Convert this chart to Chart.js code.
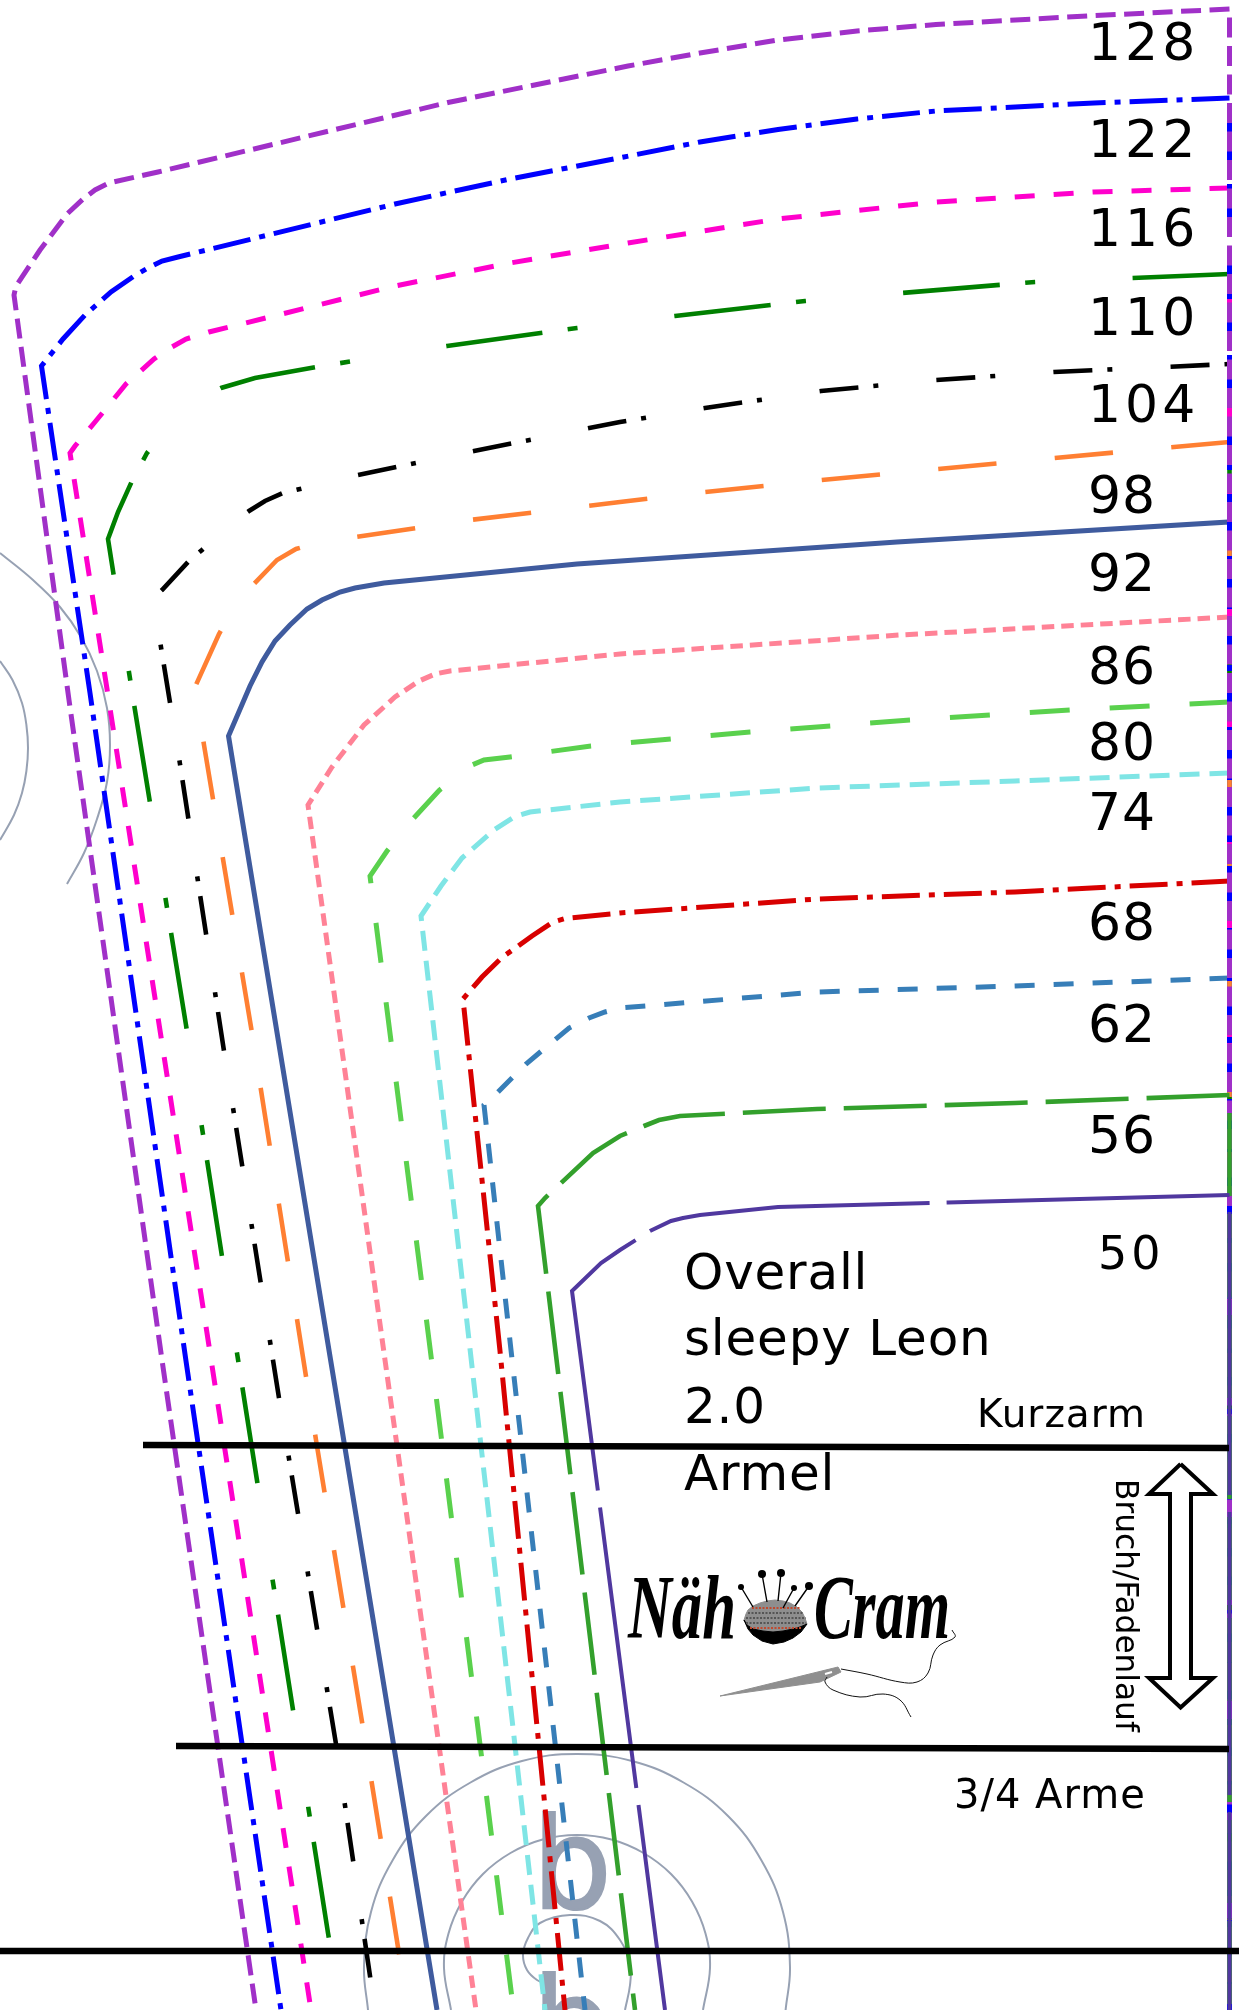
<!DOCTYPE html>
<html lang="de">
<head>
<meta charset="UTF-8">
<title>Overall sleepy Leon 2.0 Ärmel</title>
<script src="https://cdnjs.cloudflare.com/ajax/libs/Chart.js/4.4.1/chart.umd.min.js"></script>
<style>
  html, body { margin: 0; padding: 0; background: #fff; }
  #chart { display: block; }
</style>
</head>
<body>
<canvas id="chart" width="1239" height="2010"></canvas>
<script>
/* ---------- size outlines: fold bottom, fold top, then left and down ---------- */
const x128 = [1229.5, 1229.5, 1094, 936, 857, 778, 700, 628, 448, 158, 109, 95, 83, 67, 40, 16, 14, 69, 162, 256];
const y128 = [2010, 9, 15.6, 24.5, 31, 40, 53, 66, 102.5, 172, 183, 190, 199, 214, 250, 286, 295, 700, 1360, 2010];
const x122 = [1229.5, 1229.5, 1094, 936, 857, 778, 700, 624, 510, 395, 178, 162, 148, 134, 111, 85, 63, 41.5, 90, 186, 281];
const y122 = [2010, 98, 103, 111, 119, 129.5, 142, 157, 179, 204, 257, 261, 268, 276, 292, 315, 339, 366, 693, 1361, 2010];
const x116 = [1229.5, 1229.5, 1094, 936, 778, 628, 510, 395, 209, 186, 170, 154, 126, 95, 75, 70, 107, 209, 311];
const y116 = [2010, 188, 192, 202, 219, 243, 263, 286, 332, 339, 348, 359, 384, 422, 446, 453, 689, 1346, 2010];
const x110 = [1229.5, 1229.5, 1035, 805, 675, 577, 447, 316, 255, 221, 196, 165, 147, 132, 118, 108, 134, 186, 237, 328, 341];
const y110 = [2010, 274, 282, 301, 316, 328, 346, 367, 378, 388, 400, 430, 453, 481, 512, 539, 704, 1025, 1353, 1933, 2010];
const x104 = [1229.5, 1054, 936, 821, 705, 620, 474, 358, 300, 283, 265, 249, 225, 202, 188, 162, 153, 180, 224, 279, 336, 375];
const y104 = [364, 372, 380, 391, 408, 422, 451, 475, 489, 493, 501, 511, 528, 550, 562, 590, 598, 764, 1051, 1398, 1744, 2010];
const x98 = [1229.5, 1229.5, 1054, 938, 821, 705, 620, 470, 356, 310, 296, 277, 253, 234, 219, 195, 204, 252, 316, 363, 408];
const y98 = [2010, 442, 458, 469, 480, 492, 502, 520, 537, 545, 549, 560, 585, 608, 634, 687, 745, 1033, 1440, 1728, 2010];
const x92 = [1229.5, 1229.5, 897, 577, 384, 355, 340, 322, 307, 290, 275, 262, 250, 228.5, 330.6, 437];
const y92 = [2010, 522, 542, 564, 583, 588, 592, 600, 609, 625, 641, 662, 686, 736, 1360, 2010];
const x86 = [1229.5, 1229.5, 900, 620, 450, 435, 419, 395, 364, 332, 308, 385, 476];
const y86 = [2010, 617, 635, 654, 671, 674, 681, 697, 725, 767, 805, 1360, 2010];
const x80 = [1229.5, 1229.5, 1070, 910, 750, 591, 510, 484, 472, 439, 413, 387, 370, 429, 513.5];
const y80 = [2010, 702, 710, 720, 732, 746, 757, 760, 765, 790.5, 819, 851, 876, 1340, 2010];
const x74 = [1229.5, 1229.5, 1015, 817, 620, 530, 514, 494, 462, 441, 421, 469, 545];
const y74 = [2010, 773, 781, 788, 802, 812, 817, 830, 858, 886, 916, 1340, 2010];
const x68 = [1229.5, 1229.5, 1015, 817, 620, 565, 553, 532, 502, 482, 463, 500, 565];
const y68 = [2010, 881, 892, 899, 913, 918.5, 922, 936, 957.5, 977, 999, 1351, 2010];
const x62 = [1229.5, 1229.5, 1015, 817, 620, 605, 589, 569, 526, 498, 484, 511, 585];
const y62 = [2010, 978, 986, 992, 1008, 1012, 1018, 1028, 1064, 1092, 1105, 1350, 2010];
const x56 = [1229.5, 1229.5, 1015, 817, 680, 659, 644, 620, 593, 559, 545, 538, 558.5, 635];
const y56 = [2010, 1095, 1103, 1109, 1116, 1120, 1126, 1136, 1153, 1185, 1198, 1206, 1376, 2010];
const x50 = [1229.5, 1229.5, 948, 778, 700, 683, 671, 650, 620, 601, 572, 581, 665];
const y50 = [2010, 1195, 1202.5, 1207, 1215, 1218, 1221, 1231, 1250, 1263, 1291, 1360, 2010];

/* ---------- sleeve length lines ---------- */
const kurzX = [143, 1229];
const kurzY = [1445, 1448];
const dreiviertelX = [176, 1229];
const dreiviertelY = [1746, 1749];
const cuffX = [0, 1239];
const cuffY = [1951, 1951];

/* ---------- grain arrow ---------- */
const arrowX = [1180.6, 1213, 1191, 1191, 1213, 1180.6, 1149, 1170, 1170, 1149, 1180.6];
const arrowY = [1464, 1494, 1494, 1678, 1678, 1707.5, 1678, 1678, 1494, 1494, 1464];

/* ---------- placement circles ---------- */
const bigX = [368, 364, 371, 392.5, 426, 470.5, 522, 577, 632, 683.5, 728, 761.5, 783, 790, 785.6];
const bigY = [2010, 1967, 1912, 1860.5, 1816, 1782.5, 1761, 1754, 1761, 1782.5, 1816, 1860.5, 1912, 1967, 2010];
const midX = [451, 444, 448.5, 462, 483, 510.5, 542.6, 577, 611.4, 643.5, 671, 692, 705.5, 710, 703];
const midY = [2010, 1968, 1933.6, 1901.5, 1874, 1853, 1839.5, 1835, 1839.5, 1853, 1874, 1901.5, 1933.6, 1968, 2010];
const smallX = [547, 537, 527, 523, 528, 540, 570, 600, 620, 630, 630, 625];
const smallY = [1984, 1980, 1970, 1955, 1938, 1923, 1915, 1921, 1940, 1965, 1985, 2010];
const leftBigX = [0, 33, 60, 81, 97, 107, 110, 107, 97, 84, 67];
const leftBigY = [553, 580, 607, 637, 671, 708, 745, 782, 819, 853, 884];
const leftMidX = [0, 12.5, 22, 26.4, 28, 26.4, 22, 14, 0];
const leftMidY = [661, 680, 703, 725, 748, 771, 793, 815, 840];

/* ---------- logo marks ---------- */
const domeX = [744, 746, 748, 753, 760, 767, 775, 783, 790, 797, 802, 805, 807, 800, 793, 783, 773, 763, 753, 747, 744];
const domeY = [1620, 1614, 1610, 1606, 1603, 1601, 1600, 1601, 1603, 1607, 1612, 1618, 1624, 1627, 1629, 1631, 1632, 1631, 1629, 1625, 1620];
const bowlX = [744, 748, 753, 762, 773, 784, 793, 801, 807, 800, 793, 783, 773, 763, 753, 747, 744];
const bowlY = [1620, 1629, 1635, 1641, 1644, 1642, 1638, 1632, 1624, 1627, 1629, 1631, 1632, 1631, 1629, 1625, 1620];
const pinX = [762, 767, null, 781, 778, null, 741, 753, null, 794, 783, null, 809, 795];
const pinY = [1574, 1602, null, 1573, 1601, null, 1587, 1607, null, 1588, 1608, null, 1586, 1606];
const pinHeadX = [762, 781, 809];
const pinHeadY = [1574, 1573, 1586];
const smallHeadX = [741, 794];
const smallHeadY = [1587, 1588];
const stitchRedX = [752, 800, null, 750, 802];
const stitchRedY = [1608, 1608, null, 1628, 1628];
const stitchGreyX = [748, 804, null, 746, 806, null, 746, 806];
const stitchGreyY = [1613, 1613, null, 1618, 1618, null, 1623, 1623];
const needleX = [720, 838, 841, 820, 720];
const needleY = [1696, 1667, 1672, 1682, 1696];
const eyeX = [825, 832];
const eyeY = [1674, 1672];
const threadX = [841, 867, 900, 917, 928, 933, 940, 955, 952];
const threadY = [1669, 1674, 1682, 1682, 1673, 1655, 1645, 1637, 1630];
const tailX = [827, 825, 833, 860, 883, 900, 911];
const tailY = [1677, 1682, 1690, 1697, 1694, 1700, 1717];

/* ---------- labels ---------- */
const sizeLabels = ['128', '122', '116', '110', '104', '98', '92', '86', '80', '74', '68', '62', '56'];
const sizeLabelY = [60, 157, 245.5, 335, 422, 512.5, 590.6, 684, 760, 830, 940, 1042, 1153];
const titleLines = ['Overall', 'sleepy Leon', '2.0', 'Ärmel'];
const titleLineY = [1289, 1355, 1423, 1489.5];

const pts = (xs, ys) => xs.map((x, i) => ({ x: x, y: ys[i] }));

// outlines start at the fold bottom, the dash has to start at the top corner
const outline = (label, xs, ys, color, width, dash) => {
  const fold = ys[0] > ys[1] ? ys[0] - ys[1] : 0;
  return {
    label: label,
    data: pts(xs, ys),
    showLine: true,
    pointRadius: 0,
    borderColor: color,
    borderWidth: width,
    borderDash: dash,
    borderDashOffset: -fold,
    borderCapStyle: 'butt',
    borderJoinStyle: 'miter'
  };
};

const mark = (xs, ys, color, width, extra) => Object.assign({
  data: pts(xs, ys),
  showLine: true,
  pointRadius: 0,
  borderColor: color,
  borderWidth: width,
  spanGaps: false
}, extra || {});

const arc = (xs, ys) => mark(xs, ys, '#97a1b3', 2, { tension: 0.4 });
const shape = (xs, ys, color) => mark(xs, ys, color, 1, { fill: 'shape', backgroundColor: color });
const heads = (xs, ys, r) => mark(xs, ys, '#000', 0, { showLine: false, pointRadius: r, pointBackgroundColor: '#000', pointBorderWidth: 0 });

const datasets = [
  mark(kurzX, kurzY, '#000', 6.5),
  mark(dreiviertelX, dreiviertelY, '#000', 6.5),
  mark(cuffX, cuffY, '#000', 6.5),
  mark(arrowX, arrowY, '#000', 4),
  mark(eyeX, eyeY, '#fff', 2),
  mark(threadX, threadY, '#111', 1, { tension: 0.4 }),
  mark(tailX, tailY, '#111', 1, { tension: 0.4 }),
  shape(needleX, needleY, '#8f8f8f'),
  heads(pinHeadX, pinHeadY, 4),
  heads(smallHeadX, smallHeadY, 3),
  mark(pinX, pinY, '#000', 1.4),
  mark(stitchRedX, stitchRedY, '#c0492e', 2, { borderDash: [2, 1.5] }),
  mark(stitchGreyX, stitchGreyY, '#555', 2, { borderDash: [2, 1.5] }),
  shape(bowlX, bowlY, '#000'),
  shape(domeX, domeY, '#8e8e8e'),
  outline('50', x50, y50, '#50389f', 4, [283, 17]),
  outline('56', x56, y56, '#33a02c', 4.6, [83, 18]),
  outline('128', x128, y128, '#a030c8', 5, [20, 8.5]),
  outline('122', x122, y122, '#0000ff', 5, [38, 9, 6, 9]),
  outline('116', x116, y116, '#ff00cc', 5, [20, 19]),
  outline('110', x110, y110, '#008000', 4.6, [97, 97.5, 10, 25.5]),
  outline('104', x104, y104, '#000000', 4.6, [5, 15, 39, 58.3]),
  outline('98', x98, y98, '#ff7f32', 4.6, [58.5, 58.5]),
  outline('92', x92, y92, '#3f5b9e', 5, []),
  outline('86', x86, y86, '#ff8296', 5, [12.5, 7]),
  outline('80', x80, y80, '#5ad14d', 5, [40, 40]),
  outline('74', x74, y74, '#7fe5e5', 5, [20, 10]),
  outline('68', x68, y68, '#d80000', 5, [38, 9, 6, 9]),
  outline('62', x62, y62, '#377eb8', 5, [20, 19]),
  arc(bigX, bigY),
  arc(midX, midY),
  arc(smallX, smallY),
  arc(leftBigX, leftBigY),
  arc(leftMidX, leftMidY)
];

const sansFont = '"DejaVu Sans", sans-serif';

const sheetText = {
  id: 'sheetText',
  // the two placement letters lie under the outlines
  beforeDatasetsDraw(chart) {
    const c = chart.ctx, sx = chart.scales.x, sy = chart.scales.y;
    c.save();
    c.fillStyle = '#97a1b3';
    c.strokeStyle = '#97a1b3';
    c.lineWidth = 2;
    c.textBaseline = 'alphabetic';
    c.font = '126px ' + sansFont;
    [1908, 2068].forEach(y => {
      c.fillText('b', sx.getPixelForValue(532), sy.getPixelForValue(y));
      c.strokeText('b', sx.getPixelForValue(532), sy.getPixelForValue(y));
    });
    c.restore();
  },
  afterDatasetsDraw(chart) {
    const c = chart.ctx, sx = chart.scales.x, sy = chart.scales.y;
    const put = (text, x, y, font, spacing, maxWidth) => {
      c.font = font;
      c.letterSpacing = (spacing || 0) + 'px';
      if (maxWidth) c.fillText(text, sx.getPixelForValue(x), sy.getPixelForValue(y), maxWidth);
      else c.fillText(text, sx.getPixelForValue(x), sy.getPixelForValue(y));
    };
    c.save();
    c.fillStyle = '#000';
    c.textBaseline = 'alphabetic';
    // the pattern font sets the ones much wider
    sizeLabels.forEach((t, i) => put(t, 1088, sizeLabelY[i], '52px ' + sansFont, t.length === 3 ? 4 : 1));
    put('50', 1098, 1269, '46px ' + sansFont, 4);
    titleLines.forEach((t, i) => put(t, 684, titleLineY[i], '50px ' + sansFont, 0.8));
    put('Kurzarm', 977, 1427, '39px ' + sansFont, 1);
    put('3/4 Arme', 954, 1808, '40px ' + sansFont, 1);
    put('Näh', 628, 1638, 'bold italic 90px "Liberation Serif", serif', 0, 108);
    put('Cram', 814, 1638, 'bold italic 90px "Liberation Serif", serif', 0, 136);
    // grain direction label reads downwards
    c.translate(sx.getPixelForValue(1116), sy.getPixelForValue(1479));
    c.rotate(Math.PI / 2);
    put('Bruch/Fadenlauf', 0, 0, '31.2px ' + sansFont, 0);
    c.restore();
  }
};

new Chart(document.getElementById('chart'), {
  type: 'scatter',
  data: { datasets: datasets },
  plugins: [sheetText],
  options: {
    responsive: false,
    devicePixelRatio: 1,
    animation: false,
    layout: { padding: 0, autoPadding: false },
    plugins: { legend: { display: false }, tooltip: { enabled: false }, title: { display: false } },
    scales: {
      x: { type: 'linear', min: 0, max: 1239, display: false },
      y: { type: 'linear', min: 0, max: 2010, reverse: true, display: false }
    }
  }
});
</script>
</body>
</html>
